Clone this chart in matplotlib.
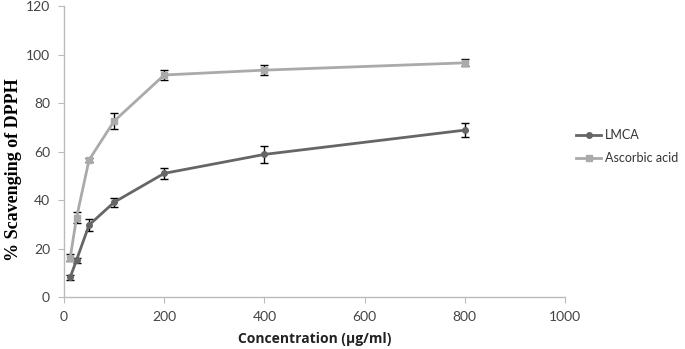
import matplotlib
matplotlib.use('Agg')
import matplotlib.pyplot as plt

# concentrations (ug/ml)
conc = [12.5, 25, 50, 100, 200, 400, 800]

# % scavenging of DPPH
lmca = [8.3, 15.4, 29.8, 39.2, 51.1, 58.9, 68.9]
lmca_err = [1.0, 1.0, 2.4, 1.8, 2.2, 3.4, 2.9]
ascorbic = [16.4, 32.8, 56.6, 72.6, 91.6, 93.6, 96.6]
ascorbic_err = [1.4, 2.3, 1.0, 3.4, 1.9, 2.0, 1.4]

xticks = [0, 200, 400, 600, 800, 1000]
yticks = [0, 20, 40, 60, 80, 100, 120]

fig = plt.figure(figsize=(6.85, 3.49), dpi=100)
ax = fig.add_axes([0.0934, 0.1476, 0.7314, 0.8352])

ax.errorbar(conc, lmca, yerr=lmca_err, color='#666666', lw=2, marker='o', ms=4,
            ecolor='black', elinewidth=1, capsize=3, capthick=1, label='LMCA', zorder=3)
ax.errorbar(conc, ascorbic, yerr=ascorbic_err, color='#aaaaaa', lw=2, marker='s', ms=4,
            ecolor='black', elinewidth=1, capsize=3, capthick=1, label='Ascorbic acid', zorder=3)

ax.set_xlim(0, 1000)
ax.set_ylim(0, 120)
ax.set_xticks(xticks)
ax.set_yticks(yticks)
for s in ['top', 'right']:
    ax.spines[s].set_visible(False)
for s in ['left', 'bottom']:
    ax.spines[s].set_color('#bbbbbb')
    ax.spines[s].set_linewidth(1)
ax.tick_params(direction='out', length=4, color='#bbbbbb', labelcolor='#444444',
               labelsize=10, pad=6)
for lab in ax.get_xticklabels() + ax.get_yticklabels():
    lab.set_family('Lato')

ax.set_xlabel('Concentration (µg/ml)', fontsize=10, fontweight='bold', family='Open Sans',
              color='#222222', labelpad=6)
ax.set_ylabel('% Scavenging of DPPH', fontsize=13, fontweight='bold',
              family='Liberation Serif')
ax.yaxis.set_label_coords(-0.084, 0.44)

# legend without error bars
h1, = ax.plot([], [], color='#666666', lw=2, marker='o', ms=4)
h2, = ax.plot([], [], color='#aaaaaa', lw=2, marker='s', ms=4)
fig.legend([h1, h2], ['LMCA', 'Ascorbic acid'], loc='center left',
           bbox_to_anchor=(0.825, 0.58), frameon=False, handlelength=2.0,
           handletextpad=0.3, prop={'family': 'Lato', 'size': 9},
           labelspacing=0.9, labelcolor='#333333')

fig.savefig('out.png', dpi=100)
